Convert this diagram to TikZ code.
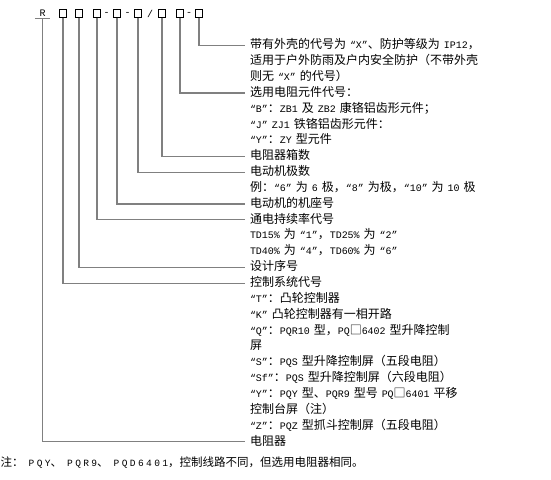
\documentclass[tikz,border=0pt]{standalone}
\usepackage{fontspec}
\setmainfont{Noto Sans CJK SC}
\newfontfamily\latfont{Liberation Mono}[Scale=0.83]
\newfontfamily\notefont{Liberation Mono}[Scale=0.83, LetterSpace=25]
\newcommand\lat[1]{{\latfont#1}}
\newcommand\notelat[1]{{\notefont#1}}
\begin{document}
\begin{tikzpicture}[x=1pt, y=1pt, node distance=15.85pt,
  cell/.style={rectangle, draw, line width=0.8pt, minimum size=7.5pt, inner sep=0pt},
  sign/.style={inner sep=0pt, font=\fontsize{12}{12}\selectfont\latfont},
  desc/.style={text width=290pt, align=left, inner xsep=5pt, inner ysep=0pt, text height=9pt, text depth=2.5pt, font=\fontsize{12}{12}\selectfont},
  wire/.style={draw=gray, line width=1.2pt}]
  \useasboundingbox (0,0) rectangle (551,-479);
  {
  % model code
  \node[sign, minimum width=15pt, minimum height=9pt] (code) at (42.5,-13.5) {R};
  \node[cell] (c1) at (63,-13.5) {};
  \node[cell, right of=c1, node distance=16pt] (c2) {};
  \node[cell, right of=c2, node distance=18pt] (c3) {};
  \node[sign, right of=c3, node distance=9.5pt] (d1) {-};
  \node[cell, right of=c3, node distance=20pt] (c4) {};
  \node[sign, right of=c4, node distance=10.5pt] (d2) {-};
  \node[cell, right of=c4, node distance=21pt] (c5) {};
  \node[sign, right of=c5, node distance=12pt] (d3) {/};
  \node[cell, right of=c5, node distance=24pt] (c6) {};
  \node[cell, right of=c6, node distance=18pt] (c7) {};
  \node[sign, right of=c7, node distance=9pt] (d4) {-};
  \node[cell, right of=c7, node distance=19pt] (c8) {};

  % explanations
  \node[desc] (shell) at (395,-45.5) {带有外壳的代号为\lat{ “X”}、防护等级为\lat{ IP12}，};
  \node[desc, below of=shell] (shell2) {适用于户外防雨及户内安全防护（不带外壳};
  \node[desc, below of=shell2] (shell3) {则无\lat{ “X” }的代号）};
  \node[desc, below of=shell3] (elem) {选用电阻元件代号：};
  \node[desc, below of=elem] (elemB) {\lat{“B”}：\lat{ZB1 }及\lat{ ZB2 }康铬铝齿形元件；};
  \node[desc, below of=elemB] (elemJ) {\lat{“J” ZJ1 }铁铬铝齿形元件：};
  \node[desc, below of=elemJ] (elemY) {\lat{“Y”}：\lat{ZY }型元件};
  \node[desc, below of=elemY] (boxes) {电阻器箱数};
  \node[desc, below of=boxes] (poles) {电动机极数};
  \node[desc, below of=poles] (poles2) {例：\lat{“6” }为\lat{ 6 }极，\lat{“8” }为极，\lat{“10” }为\lat{ 10 }极};
  \node[desc, below of=poles2] (frame) {电动机的机座号};
  \node[desc, below of=frame] (duty) {通电持续率代号};
  \node[desc, below of=duty] (duty2) {\lat{TD15\% }为\lat{ “1”}，\lat{TD25\% }为\lat{ “2”}};
  \node[desc, below of=duty2] (duty3) {\lat{TD40\% }为\lat{ “4”}，\lat{TD60\% }为\lat{ “6”}};
  \node[desc, below of=duty3] (design) {设计序号};
  \node[desc, below of=design] (ctrl) {控制系统代号};
  \node[desc, below of=ctrl] (ctrlT) {\lat{“T”}：凸轮控制器};
  \node[desc, below of=ctrlT] (ctrlK) {\lat{“K” }凸轮控制器有一相开路};
  \node[desc, below of=ctrlK] (ctrlQ) {\lat{“Q”}：\lat{PQR10 }型，\lat{PQ}□\lat{6402 }型升降控制};
  \node[desc, below of=ctrlQ] (ctrlQ2) {屏};
  \node[desc, below of=ctrlQ2] (ctrlS) {\lat{“S”}：\lat{PQS }型升降控制屏（五段电阻）};
  \node[desc, below of=ctrlS] (ctrlSf) {\lat{“Sf”}：\lat{PQS }型升降控制屏（六段电阻）};
  \node[desc, below of=ctrlSf] (ctrlY) {\lat{“Y”}：\lat{PQY }型、\lat{PQR9 }型号\lat{ PQ}□\lat{6401 }平移};
  \node[desc, below of=ctrlY] (ctrlY2) {控制台屏（注）};
  \node[desc, below of=ctrlY2] (ctrlZ) {\lat{“Z”}：\lat{PQZ }型抓斗控制屏（五段电阻）};
  \node[desc, below of=ctrlZ] (res) {电阻器};
  \node[desc, text width=540pt, anchor=west, font=\fontsize{11.5}{11.5}\selectfont] (note) at (-4.5,-463) {注：\hspace{5pt}\notelat{PQY}、\hspace{5pt}\notelat{PQR9}、\hspace{5pt}\notelat{PQD6401}，控制线路不同，但选用电阻器相同。};

  \draw[wire] (code.south west) -- (code.south east);
  \draw[wire] (c8.south) |- (shell.west);
  \draw[wire] (c7.south) |- (elem.west);
  \draw[wire] (c6.south) |- (boxes.west);
  \draw[wire] (c5.south) |- (poles.west);
  \draw[wire] (c4.south) |- (frame.west);
  \draw[wire] (c3.south) |- (duty.west);
  \draw[wire] (c2.south) |- (design.west);
  \draw[wire] (c1.south) |- (ctrl.west);
  \draw[wire] (code.south) |- (res.west);
}
\end{tikzpicture}
\end{document}
